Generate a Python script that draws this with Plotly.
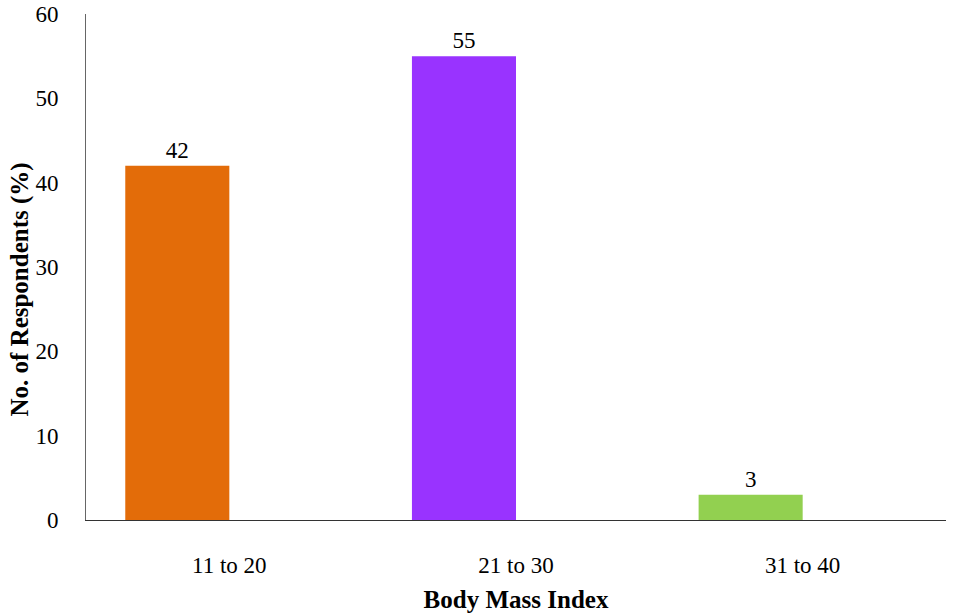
import plotly.graph_objects as go

# Body Mass Index distribution of respondents
categories = ["11 to 20", "21 to 30", "31 to 40"]
values = [42, 55, 3]
colors = ["#E36C09", "#9933FF", "#92D050"]
y_ticks = [0, 10, 20, 30, 40, 50, 60]

font_family = "Liberation Serif, Times New Roman, serif"
bar_width = 0.363

fig = go.Figure(
    go.Bar(
        x=categories,
        y=values,
        marker=dict(color=colors, line=dict(width=0)),
        width=bar_width,
        offset=-bar_width,
        text=[str(v) for v in values],
        textposition="outside",
        textfont=dict(family=font_family, size=23, color="black"),
        cliponaxis=False,
    )
)

fig.update_layout(
    width=953,
    height=613,
    margin=dict(l=86, r=7, t=14, b=93),
    paper_bgcolor="white",
    plot_bgcolor="white",
    showlegend=False,
    font=dict(family=font_family, size=23, color="black"),
    xaxis=dict(
        automargin=False,
        showline=True,
        linecolor="#333333",
        linewidth=1,
        showgrid=False,
        ticks="",
        ticklabelstandoff=24,
        tickfont=dict(size=23),
        title=dict(
            text="<b>Body Mass Index</b>",
            font=dict(size=25),
            standoff=14,
        ),
    ),
    yaxis=dict(
        automargin=False,
        range=[0, 60],
        tickvals=y_ticks,
        showline=True,
        linecolor="#666666",
        linewidth=1,
        showgrid=False,
        zeroline=False,
        ticks="",
        ticklabelstandoff=22,
        tickfont=dict(size=23),
    ),
    annotations=[
        dict(
            text="<b>No. of Respondents (%)</b>",
            textangle=-90,
            xref="paper",
            yref="paper",
            x=-0.077,
            y=0.455,
            xanchor="center",
            yanchor="middle",
            showarrow=False,
            font=dict(family=font_family, size=25, color="black"),
        )
    ],
)

fig.write_html("out.html")
